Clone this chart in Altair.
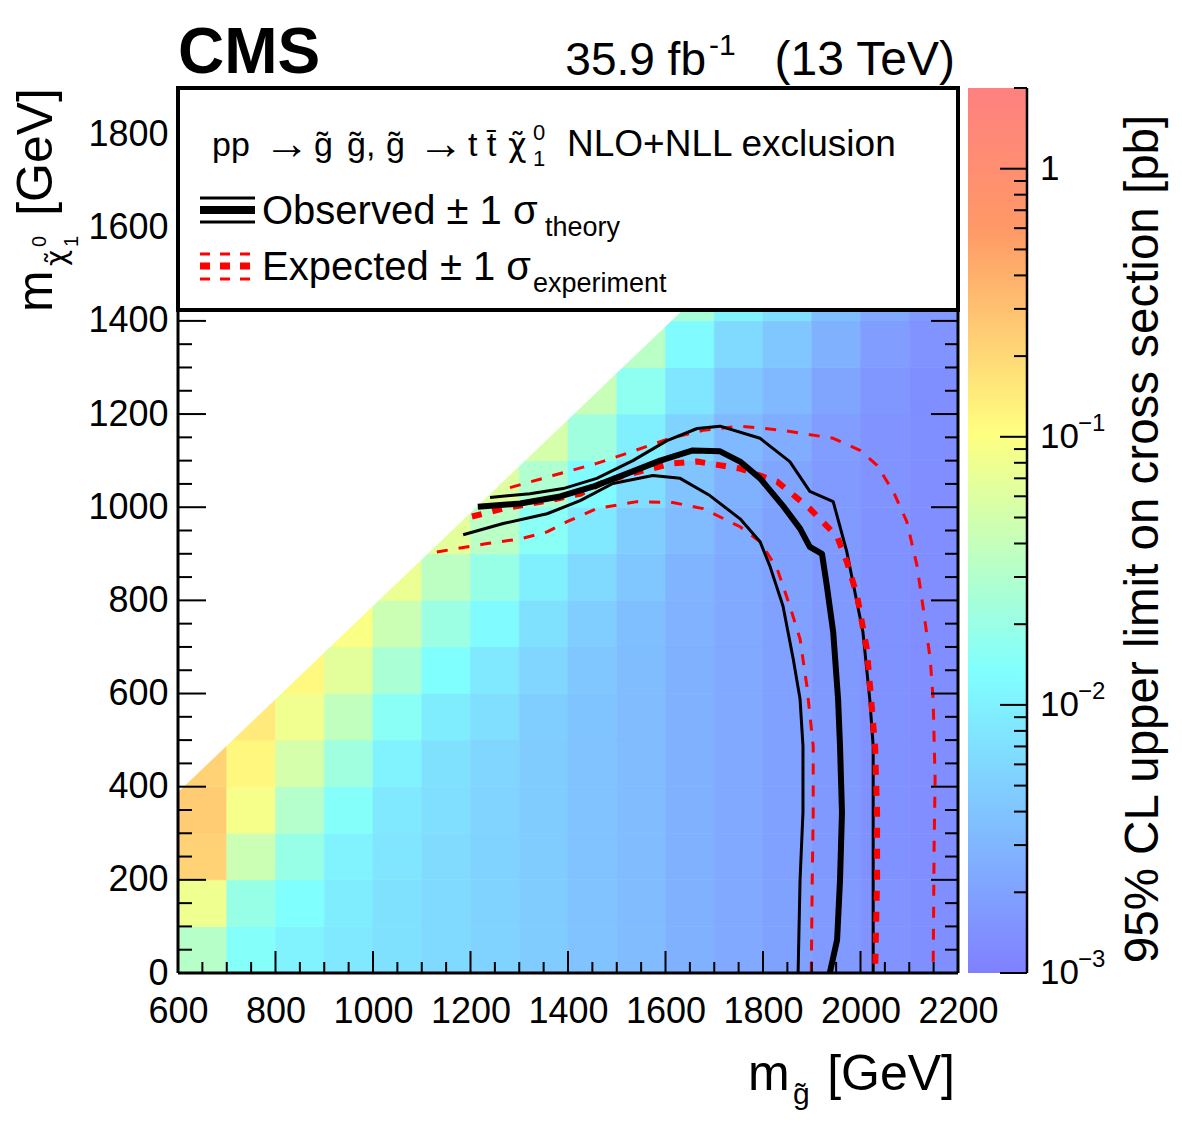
import math
import altair as alt
import pandas as pd

FONT = "Liberation Sans"
W, H = 780, 885

# ---------------- data ----------------
x_domain = [600, 2200]
y_domain = [0, 1900]
x_ticks_major = [600, 800, 1000, 1200, 1400, 1600, 1800, 2000, 2200]
y_ticks_major = [0, 200, 400, 600, 800, 1000, 1200, 1400, 1600, 1800]

# 95% CL upper limit, log10(sigma / pb), in 100 GeV cells; one list per gluino-mass column
col_x0 = [600, 700, 800, 900, 1000, 1100, 1200, 1300, 1400, 1500, 1600, 1700, 1800, 1900, 2000, 2100]
log10_limit_cols = [
    [-1.50, -1.10, -0.66, -0.61, -0.66],
    [-1.84, -1.71, -1.35, -1.05, -0.93, -0.83],
    [-1.98, -1.88, -1.71, -1.51, -1.28, -1.09, -0.95],
    [-2.08, -2.04, -1.98, -1.84, -1.65, -1.42, -1.18, -1.02],
    [-2.14, -2.14, -2.11, -2.08, -1.98, -1.81, -1.58, -1.35, -1.12],
    [-2.21, -2.21, -2.20, -2.17, -2.14, -2.04, -1.88, -1.68, -1.45, -1.18],
    [-2.27, -2.27, -2.27, -2.26, -2.24, -2.17, -2.08, -1.91, -1.71, -1.48, -1.22],
    [-2.34, -2.34, -2.34, -2.34, -2.33, -2.31, -2.24, -2.14, -2.01, -1.81, -1.55, -1.28],
    [-2.41, -2.41, -2.41, -2.41, -2.41, -2.40, -2.37, -2.31, -2.21, -2.08, -1.91, -1.65, -1.38],
    [-2.47, -2.47, -2.47, -2.47, -2.47, -2.47, -2.46, -2.44, -2.37, -2.31, -2.17, -2.01, -1.78, -1.48],
    [-2.57, -2.57, -2.57, -2.57, -2.57, -2.57, -2.57, -2.56, -2.54, -2.47, -2.41, -2.27, -2.11, -1.91, -1.61],
    [-2.64, -2.64, -2.64, -2.64, -2.64, -2.64, -2.64, -2.64, -2.63, -2.60, -2.57, -2.50, -2.37, -2.21, -1.98],
    [-2.70, -2.70, -2.71, -2.71, -2.71, -2.71, -2.71, -2.71, -2.70, -2.70, -2.67, -2.60, -2.50, -2.37, -2.17],
    [-2.77, -2.77, -2.78, -2.78, -2.78, -2.78, -2.78, -2.78, -2.78, -2.77, -2.77, -2.74, -2.67, -2.57, -2.44],
    [-2.83, -2.83, -2.84, -2.84, -2.84, -2.84, -2.84, -2.84, -2.84, -2.84, -2.83, -2.83, -2.80, -2.74, -2.64],
    [-2.87, -2.87, -2.88, -2.88, -2.88, -2.88, -2.88, -2.88, -2.88, -2.88, -2.88, -2.87, -2.87, -2.83, -2.77],
]
cell = 100

# kinematic edge of the scanned region
edge_x = [600, 2200]
edge_y = [388, 1988]
edge_top = [1900, 1900]

# exclusion contours
obs_x = [1215, 1302, 1384, 1451, 1521, 1589, 1656, 1712, 1753, 1794, 1841, 1876, 1896, 1921, 1931, 1944, 1954, 1958, 1962, 1958, 1952, 1937]
obs_y = [1001, 1008, 1023, 1044, 1072, 1100, 1122, 1120, 1098, 1062, 1003, 954, 915, 900, 831, 732, 588, 487, 345, 200, 71, 0]
obs_up_x = [1240, 1322, 1390, 1459, 1533, 1603, 1665, 1712, 1794, 1855, 1896, 1944, 1972, 2005, 2019, 2026, 2026, 2026]
obs_up_y = [1021, 1029, 1040, 1062, 1100, 1143, 1169, 1174, 1148, 1098, 1034, 1012, 904, 732, 588, 487, 200, 0]
obs_dn_x = [1185, 1267, 1357, 1425, 1492, 1574, 1630, 1691, 1753, 1794, 1814, 1841, 1862, 1876, 1882, 1882, 1876, 1872]
obs_dn_y = [941, 965, 986, 1014, 1051, 1068, 1062, 1025, 975, 926, 874, 788, 674, 588, 487, 345, 200, 0]
exp_x = [1203, 1267, 1357, 1425, 1480, 1548, 1615, 1665, 1753, 1829, 1896, 1952, 1972, 1993, 2013, 2030, 2034, 2034, 2030]
exp_y = [980, 997, 1014, 1029, 1057, 1077, 1094, 1098, 1083, 1055, 997, 937, 883, 810, 696, 487, 345, 200, 0]
exp_up_x = [1281, 1369, 1459, 1533, 1609, 1677, 1753, 1841, 1944, 1999, 2034, 2067, 2095, 2116, 2128, 2143, 2149, 2153, 2151, 2149]
exp_up_y = [1042, 1068, 1094, 1120, 1148, 1165, 1174, 1165, 1148, 1122, 1090, 1034, 969, 874, 788, 674, 588, 416, 271, 0]
exp_dn_x = [1131, 1234, 1302, 1357, 1398, 1459, 1542, 1615, 1677, 1753, 1794, 1829, 1855, 1876, 1890, 1903, 1903, 1901, 1899]
exp_dn_y = [904, 922, 932, 947, 969, 997, 1012, 1010, 997, 958, 926, 868, 788, 717, 616, 487, 345, 200, 0]

# colour bar
z_min, z_max = -3.0, math.log10(2.0)
palette_stops = [0.00, 0.34, 0.61, 0.84, 1.00]
palette_colors = ["#8080ff", "#80ffff", "#ffff80", "#ff9966", "#ff8080"]
cbar_major = [-3, -2, -1, 0]
cbar_base = ["10", "10", "10", "1"]
cbar_exp = ["\u22123", "\u22122", "\u22121", ""]

# ---------------- helpers ----------------
one = pd.DataFrame({"a": [0]})
xs = alt.Scale(domain=x_domain, nice=False, zero=False)
ys = alt.Scale(domain=y_domain, nice=False, zero=False)
xax = alt.Axis(values=x_ticks_major, title=None, grid=False, domain=False, ticks=False, tickSize=0,
               labelFont=FONT, labelFontSize=36, labelColor="black", labelPadding=21,
               labelFlush=False, labelOverlap=False, format="d")
yax = alt.Axis(values=y_ticks_major, title=None, grid=False, domain=False, ticks=False, tickSize=0,
               labelFont=FONT, labelFontSize=36, labelColor="black", labelPadding=10,
               labelOverlap=False, format="d")


def X(f):
    return alt.X(f, type="quantitative", scale=xs, axis=xax)


def Y(f):
    return alt.Y(f, type="quantitative", scale=ys, axis=yax)


def txt(s, x, y, size, align="left", baseline="alphabetic", angle=None, weight="normal",
        color="black", font=FONT):
    kw = dict(text=s, font=font, fontSize=size, align=align, baseline=baseline, fontWeight=weight, color=color)
    if angle is not None:
        kw["angle"] = angle
    return alt.Chart(one).mark_text(**kw).encode(x=alt.value(x), y=alt.value(y))


def hrule(x1, x2, y, width, color="black", dash=None):
    kw = dict(color=color, strokeWidth=width)
    if dash:
        kw["strokeDash"] = dash
    return alt.Chart(one).mark_rule(**kw).encode(x=alt.value(x1), x2=alt.value(x2), y=alt.value(y))


def vrule(x, y1, y2, width, color="black"):
    return alt.Chart(one).mark_rule(color=color, strokeWidth=width).encode(
        x=alt.value(x), y=alt.value(y1), y2=alt.value(y2))


# ---------------- heat map ----------------
rows = []
for x0, col in zip(col_x0, log10_limit_cols):
    for j, v in enumerate(col):
        rows.append({"x0": x0, "x1": x0 + cell, "y0": j * cell, "y1": (j + 1) * cell, "L": v})
heat_df = pd.DataFrame(rows)

cdomain = [z_min + t * (z_max - z_min) for t in palette_stops]
cscale = alt.Scale(domain=cdomain, range=palette_colors, interpolate="rgb", clamp=True)

heat = alt.Chart(heat_df).mark_rect(strokeWidth=0.6).encode(
    x=X("x0"), x2="x1", y=Y("y0"), y2="y1",
    color=alt.Color("L:Q", scale=cscale, legend=None),
    stroke=alt.Stroke("L:Q", scale=cscale, legend=None),
)

mask = alt.Chart(pd.DataFrame({"x": edge_x, "y": edge_y, "top": edge_top})).mark_area(
    color="white", clip=True).encode(x=X("x"), y=Y("y"), y2="top")


def curve(xv, yv, color, width, dash=None):
    df = pd.DataFrame({"x": xv, "y": yv, "i": list(range(len(xv)))})
    kw = dict(color=color, strokeWidth=width, strokeJoin="round")
    if dash:
        kw["strokeDash"] = dash
    return alt.Chart(df).mark_line(**kw).encode(x=X("x"), y=Y("y"), order="i:Q")


curves = [
    curve(exp_up_x, exp_up_y, "#ff0000", 3, [11, 11]),
    curve(exp_dn_x, exp_dn_y, "#ff0000", 3, [11, 11]),
    curve(obs_up_x, obs_up_y, "black", 3),
    curve(obs_dn_x, obs_dn_y, "black", 3),
    curve(exp_x, exp_y, "#ff0000", 6, [10, 11]),
    curve(obs_x, obs_y, "black", 6),
]

# ---------------- inward ticks ----------------
x_minor = [v for v in range(650, 2200, 50) if v not in x_ticks_major]
y_minor = [v for v in range(50, 1900, 50) if v not in y_ticks_major]


def yticks(vals, xa, xb):
    return alt.Chart(pd.DataFrame({"v": vals})).mark_rule(color="black", strokeWidth=2).encode(
        y=Y("v"), x=alt.value(xa), x2=alt.value(xb))


def xticks(vals, ya, yb):
    return alt.Chart(pd.DataFrame({"v": vals})).mark_rule(color="black", strokeWidth=2).encode(
        x=X("v"), y=alt.value(ya), y2=alt.value(yb))


ticks = [
    yticks(y_ticks_major, 0, 28), yticks(y_minor, 0, 14),
    yticks(y_ticks_major, W - 27, W), yticks(y_minor, W - 13, W),
    xticks(x_ticks_major, H - 22, H), xticks(x_minor, H - 11, H),
]

frame = [vrule(0, 0, H, 3), vrule(W, 0, H, 3), hrule(0, W, H, 3)]

# ---------------- legend box ----------------
box = alt.Chart(one).mark_rect(fill="white", stroke="black", strokeWidth=4).encode(
    x=alt.value(0), x2=alt.value(W), y=alt.value(0), y2=alt.value(222))

HB = 68  # header baseline (relative)
legend = [
    box,
    txt("pp", 34, HB, 34),
    txt("\u2192", 86, HB + 3, 46),
    txt("g\u0303", 136, HB, 34),
    txt("g\u0303,", 169, HB, 34),
    txt("g\u0303", 208, HB, 34),
    txt("\u2192", 240, HB + 3, 46),
    txt("t", 290, HB, 34),
    txt("t\u0304", 309, HB, 34),
    txt("\u03c7\u0303", 330, HB, 32, font="DejaVu Sans"),
    txt("0", 355, HB - 16, 22),
    txt("1", 355, HB + 10, 22),
    txt("NLO+NLL exclusion", 389, HB, 37),
    hrule(22, 77, 110, 3), hrule(22, 77, 122, 8), hrule(22, 77, 134, 3),
    txt("Observed \u00b1 1 \u03c3", 84, 136, 40),
    txt("theory", 367, 148, 27),
    hrule(22, 77, 166, 3, "#ff0000", [10, 10]), hrule(22, 77, 178, 7, "#ff0000", [10, 10]),
    hrule(22, 77, 191, 3, "#ff0000", [10, 10]),
    txt("Expected \u00b1 1 \u03c3", 84, 192, 40),
    txt("experiment", 355, 204, 27),
]

# ---------------- titles ----------------
titles = [
    txt("CMS", 0, -15, 64, weight="bold"),
    txt("35.9 fb", 528, -13, 46, align="right"),
    txt("-1", 531, -33, 30),
    txt("(13 TeV)", 777, -13, 48, align="right"),
    # x title
    txt("m", 570, 1002, 50),
    txt("g\u0303", 615, 1016, 30),
    txt("[GeV]", 777, 1002, 50, align="right"),
    # y title (rotated)
    txt("m", -126, 224, 50, angle=270),
    txt("\u03c7\u0303", -112, 178, 28, angle=270, font="DejaVu Sans"),
    txt("0", -132, 159, 20, angle=270),
    txt("1", -100, 159, 20, angle=270),
    txt("[GeV]", -126, 0, 50, align="right", angle=270),
]

main = alt.layer(heat, mask, *curves, *ticks, *frame, *legend, *titles)

# ---------------- colour bar ----------------
cys = alt.Scale(domain=[z_min, z_max], nice=False, zero=False)
grad = alt.LinearGradient(
    gradient="linear",
    stops=[alt.GradientStop(offset=t, color=c) for t, c in zip(palette_stops, palette_colors)],
    x1=0, x2=0, y1=1, y2=0,
)
cb_rect = alt.Chart(one).mark_rect(fill=grad).encode(
    x=alt.value(790), x2=alt.value(849), y=alt.value(0), y2=alt.value(H))
cb_minor = [math.log10(k * 10.0 ** n) for n in (-3, -2, -1, 0) for k in range(2, 10) if k * 10.0 ** n <= 2.0]
cb_ticks_major = alt.Chart(pd.DataFrame({"v": cbar_major})).mark_rule(color="black", strokeWidth=2).encode(
    y=alt.Y("v:Q", scale=cys, axis=None), x=alt.value(849 - 27), x2=alt.value(849))
cb_ticks_minor = alt.Chart(pd.DataFrame({"v": cb_minor})).mark_rule(color="black", strokeWidth=2).encode(
    y=alt.Y("v:Q", scale=cys, axis=None), x=alt.value(849 - 13), x2=alt.value(849))
cb_edge = vrule(849, 0, H, 2.5)
lab_df = pd.DataFrame({"v": cbar_major, "base": cbar_base, "exp": cbar_exp})
cb_base = alt.Chart(lab_df).mark_text(font=FONT, fontSize=35, align="left", baseline="middle", color="black").encode(
    y=alt.Y("v:Q", scale=cys, axis=None), x=alt.value(862), text="base:N")
cb_exp = alt.Chart(lab_df).mark_text(font=FONT, fontSize=24, align="left", baseline="middle", color="black", dy=-13).encode(
    y=alt.Y("v:Q", scale=cys, axis=None), x=alt.value(900), text="exp:N")
cb_title = txt("95% CL upper limit on cross section [pb]", 980, 451, 47.5, align="center", angle=270)

cbar = alt.layer(cb_rect, cb_ticks_minor, cb_ticks_major, cb_edge, cb_base, cb_exp, cb_title)

chart = alt.layer(main, cbar).resolve_scale(y="independent").properties(
    width=W, height=H,
    autosize=alt.AutoSizeParams(type="none"),
    padding={"left": 178, "top": 88, "right": 224, "bottom": 161},
    background="white",
).configure_view(strokeWidth=0)

chart.save("out.html", embed_options={"renderer": "svg", "actions": False})
